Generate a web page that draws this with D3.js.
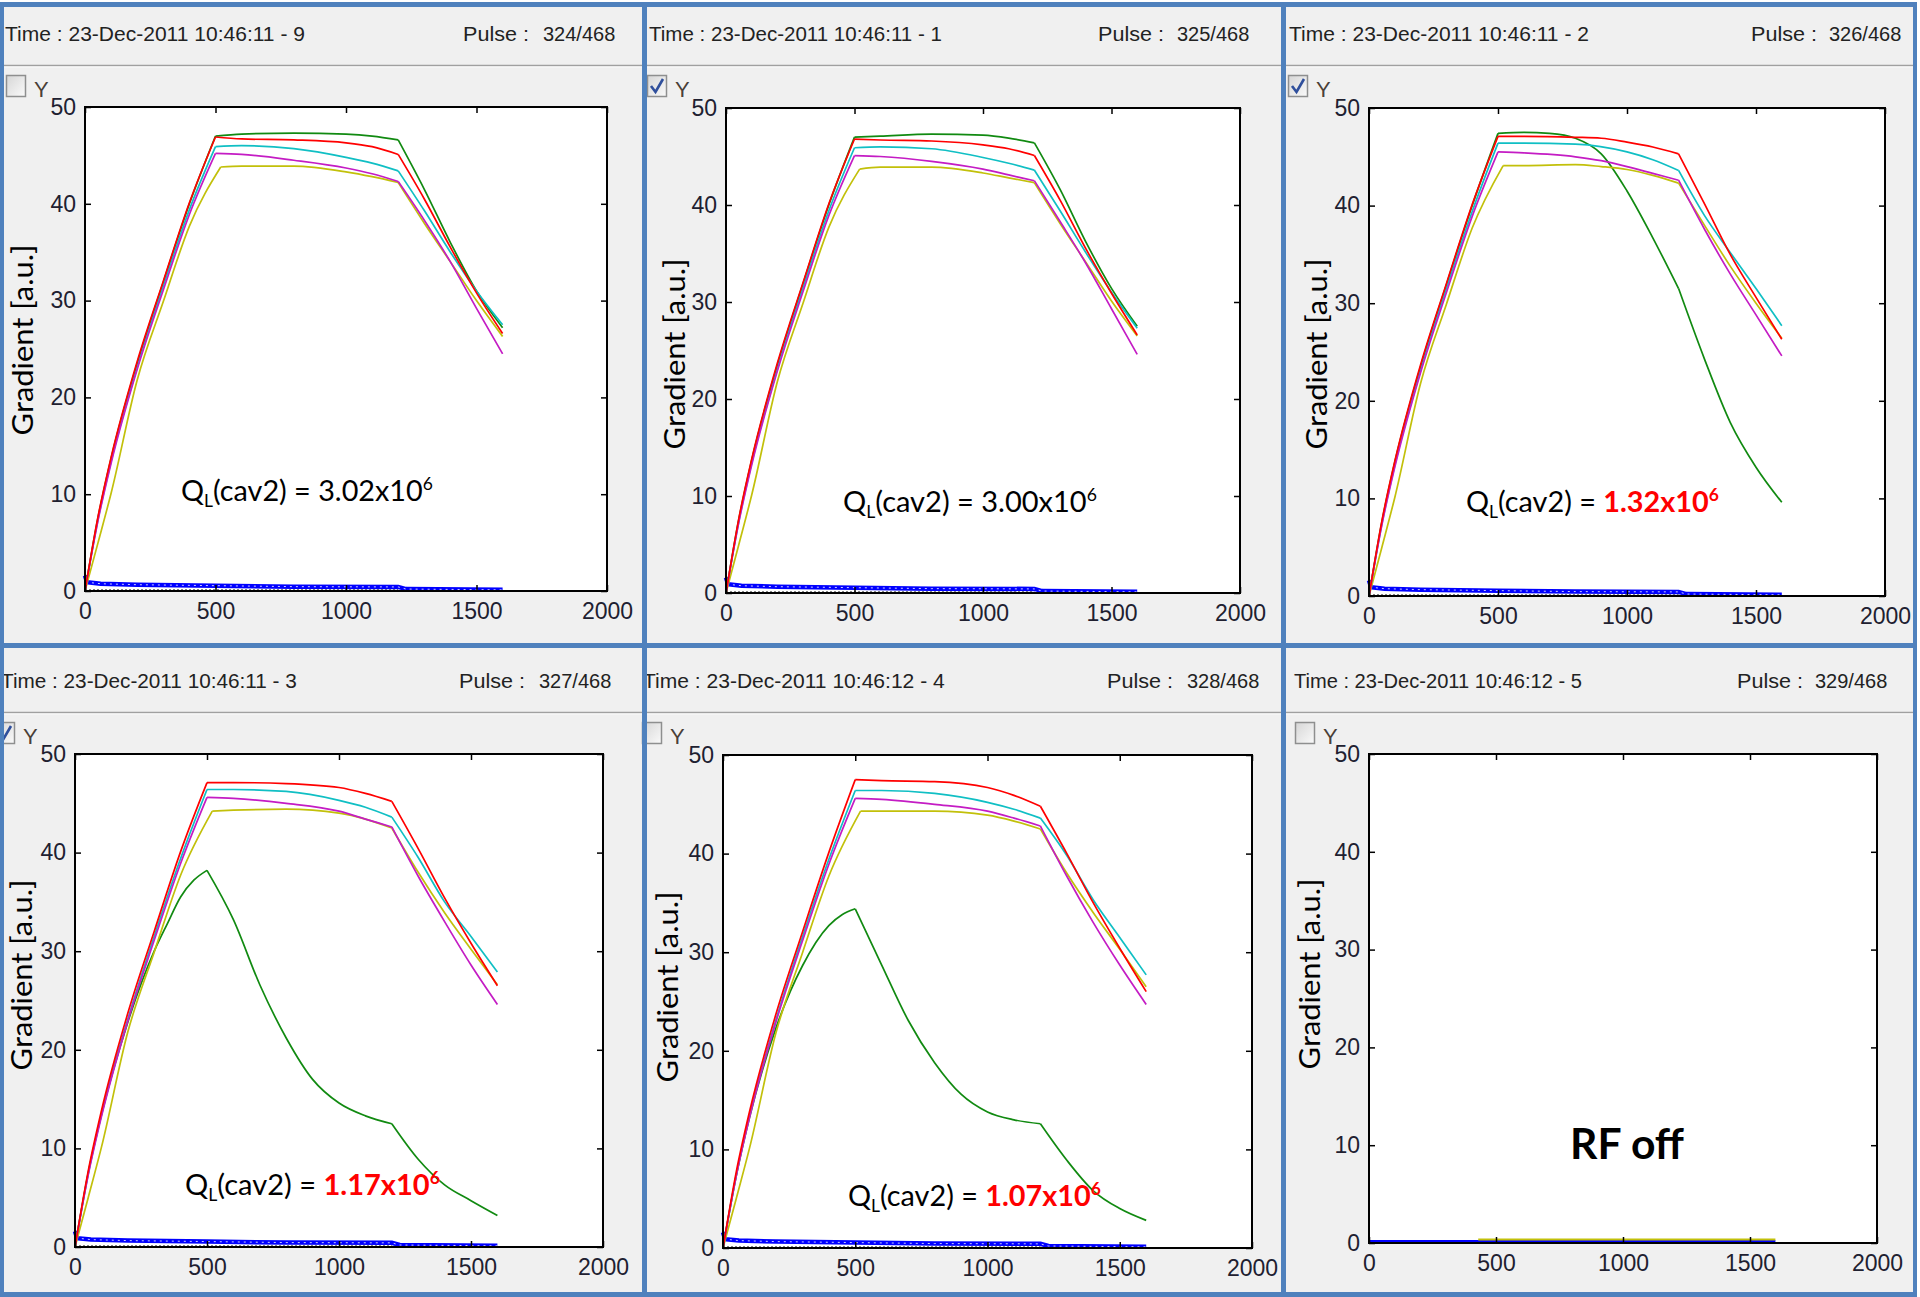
<!DOCTYPE html>
<html>
<head>
<meta charset="utf-8">
<script src="https://cdn.jsdelivr.net/npm/d3@7"></script>
<style>
html, body { margin: 0; padding: 0; background: #fff; }
svg { display: block; }
</style>
</head>
<body>
<svg id="chart" width="1920" height="1297"></svg>
<script>
// ---- data ----
const xTicks = [0, 500, 1000, 1500, 2000]
const yTicks = [0, 10, 20, 30, 40, 50]

const timeStamps = ["23-Dec-2011 10:46:11 - 9", "23-Dec-2011 10:46:11 - 1", "23-Dec-2011 10:46:11 - 2",
                    "23-Dec-2011 10:46:11 - 3", "23-Dec-2011 10:46:12 - 4", "23-Dec-2011 10:46:12 - 5"]
const pulseLabels = ["324/468", "325/468", "326/468", "327/468", "328/468", "329/468"]
const qlMantissa = ["3.02", "3.00", "1.32", "1.17", "1.07", null]
const qlHighlighted = [false, false, true, true, true, false]
const yChecked = [false, true, true, true, false, false]

// pulse 324
const p1Green = [[0,0],[50,7.6],[100,13.7],[200,23.5],[300,31.9],[400,40.0],[500,47.0],[600,47.2],[800,47.3],[1000,47.2],[1100,47.0],[1200,46.6],[1300,41.5],[1400,36.0],[1500,31.0],[1600,27.2]]
const p1Red = [[0,0],[50,7.7],[100,13.8],[200,23.7],[300,32.0],[400,40.1],[500,46.9],[600,46.7],[800,46.6],[1000,46.3],[1100,45.9],[1200,45.1],[1300,40.5],[1400,35.5],[1500,30.8],[1600,26.6]]
const p1Cyan = [[0,0],[50,7.4],[100,13.4],[200,23.1],[300,31.5],[400,39.4],[500,45.9],[600,46.0],[800,45.7],[1000,44.8],[1100,44.2],[1200,43.4],[1300,39.3],[1400,35.0],[1500,31.0],[1600,27.5]]
const p1Magenta = [[0,0],[50,7.3],[100,13.2],[200,22.9],[300,31.1],[400,38.9],[500,45.2],[600,45.1],[800,44.5],[1000,43.7],[1100,43.1],[1200,42.3],[1300,38.3],[1400,34.0],[1500,29.2],[1600,24.5]]
const p1Yellow = [[0,0],[50,5.0],[100,10.1],[200,21.8],[300,29.9],[400,37.7],[520,43.8],[600,43.9],[800,43.9],[1000,43.3],[1100,42.8],[1200,42.2],[1300,38.0],[1400,34.0],[1500,30.0],[1600,26.3]]

// pulse 325
const p2Green = [[0,0],[50,7.6],[100,13.7],[200,23.5],[300,31.9],[400,40.0],[500,47.0],[600,47.1],[800,47.3],[1000,47.2],[1100,46.9],[1200,46.4],[1300,41.6],[1400,36.2],[1500,31.4],[1600,27.5]]
const p2Red = [[0,0],[50,7.7],[100,13.8],[200,23.7],[300,32.0],[400,40.1],[500,46.8],[600,46.7],[800,46.6],[1000,46.2],[1100,45.8],[1200,45.1],[1300,40.5],[1400,35.5],[1500,30.9],[1600,26.6]]
const p2Cyan = [[0,0],[50,7.4],[100,13.4],[200,23.1],[300,31.5],[400,39.4],[500,45.9],[600,46.0],[800,45.8],[1000,44.9],[1100,44.3],[1200,43.6],[1300,39.4],[1400,35.1],[1500,31.0],[1600,27.3]]
const p2Magenta = [[0,0],[50,7.3],[100,13.2],[200,22.9],[300,31.1],[400,38.9],[500,45.1],[600,45.0],[800,44.5],[1000,43.7],[1100,43.1],[1200,42.5],[1300,38.3],[1400,34.0],[1500,29.3],[1600,24.6]]
const p2Yellow = [[0,0],[50,5.0],[100,10.1],[200,21.8],[300,29.9],[400,37.7],[520,43.7],[600,43.9],[800,43.9],[1000,43.3],[1100,42.8],[1200,42.3],[1300,38.1],[1400,34.1],[1500,30.1],[1600,26.5]]

// pulse 326
const p3Green = [[0,0],[50,7.6],[100,13.7],[200,23.5],[300,31.9],[400,40.0],[500,47.4],[600,47.5],[700,47.4],[800,46.9],[900,45.3],[1000,41.5],[1100,36.7],[1200,31.5],[1300,24.3],[1400,17.8],[1500,13.2],[1600,9.6]]
const p3Red = [[0,0],[50,7.7],[100,13.8],[200,23.7],[300,32.0],[400,40.1],[500,47.1],[600,47.1],[800,47.0],[900,46.9],[1000,46.5],[1100,46.0],[1200,45.3],[1300,40.2],[1400,35.0],[1500,30.6],[1600,26.3]]
const p3Cyan = [[0,0],[50,7.4],[100,13.4],[200,23.1],[300,31.5],[400,39.4],[500,46.4],[600,46.4],[800,46.3],[1000,45.5],[1100,44.7],[1200,43.6],[1300,39.0],[1400,35.2],[1500,31.5],[1600,27.7]]
const p3Magenta = [[0,0],[50,7.3],[100,13.2],[200,22.9],[300,31.1],[400,38.9],[500,45.5],[600,45.4],[800,45.0],[900,44.6],[1000,44.0],[1100,43.3],[1200,42.6],[1300,37.6],[1400,33.0],[1500,28.8],[1600,24.6]]
const p3Yellow = [[0,0],[50,5.0],[100,10.1],[200,21.8],[300,29.9],[400,37.7],[520,44.1],[600,44.1],[800,44.2],[900,44.0],[1000,43.7],[1100,43.1],[1200,42.3],[1300,38.0],[1400,33.8],[1500,30.0],[1600,26.4]]

// pulse 327
const p4Green = [[0,0],[50,7.5],[100,13.4],[200,22.8],[300,30.0],[350,32.8],[400,35.5],[450,37.2],[500,38.2],[600,33.2],[700,26.6],[800,21.2],[900,17.0],[1000,14.6],[1100,13.3],[1200,12.5],[1300,8.9],[1400,6.3],[1500,4.7],[1600,3.2]]
const p4Red = [[0,0],[50,7.7],[100,13.8],[200,23.7],[300,32.0],[400,40.1],[500,47.1],[600,47.1],[800,47.0],[1000,46.6],[1100,46.0],[1200,45.2],[1300,40.4],[1400,35.4],[1500,30.8],[1600,26.5]]
const p4Cyan = [[0,0],[50,7.4],[100,13.4],[200,23.1],[300,31.5],[400,39.4],[500,46.4],[600,46.4],[800,46.2],[1000,45.3],[1100,44.6],[1200,43.6],[1300,39.5],[1400,35.0],[1500,31.5],[1600,27.9]]
const p4Magenta = [[0,0],[50,7.3],[100,13.2],[200,22.9],[300,31.1],[400,38.9],[500,45.6],[600,45.5],[800,45.0],[1000,44.2],[1100,43.4],[1200,42.6],[1300,37.6],[1400,33.0],[1500,28.6],[1600,24.6]]
const p4Yellow = [[0,0],[50,5.0],[100,10.1],[200,21.8],[300,29.9],[400,37.7],[520,44.2],[600,44.3],[800,44.4],[1000,44.0],[1100,43.4],[1200,42.5],[1300,38.0],[1400,33.9],[1500,30.2],[1600,26.6]]

// pulse 328
const p5Green = [[0,0],[50,7.3],[100,13.2],[200,22.3],[300,28.6],[400,32.7],[450,33.8],[500,34.4],[600,28.7],[700,23.1],[800,18.8],[900,15.6],[1000,13.8],[1100,13.0],[1200,12.6],[1300,8.9],[1400,5.8],[1500,4.0],[1600,2.8]]
const p5Red = [[0,0],[50,7.7],[100,13.8],[200,23.7],[300,32.0],[400,40.1],[500,47.5],[600,47.4],[800,47.3],[1000,46.7],[1100,45.9],[1200,44.8],[1300,40.0],[1400,35.0],[1500,30.4],[1600,26.0]]
const p5Cyan = [[0,0],[50,7.4],[100,13.4],[200,23.1],[300,31.5],[400,39.4],[500,46.4],[600,46.4],[800,46.1],[1000,45.2],[1100,44.5],[1200,43.6],[1300,39.8],[1400,35.3],[1500,31.5],[1600,27.7]]
const p5Magenta = [[0,0],[50,7.3],[100,13.2],[200,22.9],[300,31.1],[400,38.9],[500,45.6],[600,45.5],[800,45.0],[1000,44.3],[1100,43.6],[1200,42.8],[1300,37.7],[1400,33.0],[1500,28.7],[1600,24.7]]
const p5Yellow = [[0,0],[50,5.0],[100,10.1],[200,21.8],[300,29.9],[400,37.7],[520,44.3],[600,44.3],[800,44.3],[1000,43.9],[1100,43.3],[1200,42.5],[1300,38.0],[1400,34.0],[1500,30.3],[1600,26.5]]

// pulse 329: RF off, only the baseline traces
const p6Blue = [[0,0.12],[1600,0.12]]
const p6Yellow = [[430,0.35],[1600,0.35]]

// probe / reflected baseline near zero (pulses 324-328)
const baseBlue = [[0,1.6],[8,0.9],[60,0.75],[200,0.65],[500,0.55],[800,0.45],[1200,0.42],[1230,0.2],[1600,0.12]]
const baseDots = [[0,0.08],[1200,0.08]]

const traceColors = {green: "#118a11", red: "#ff0000", cyan: "#10bfc4", magenta: "#c41cc4", yellow: "#c2c00a", blue: "#0000ff"}

const panelTraces = [
  {green: p1Green, yellow: p1Yellow, cyan: p1Cyan, magenta: p1Magenta, red: p1Red},
  {green: p2Green, yellow: p2Yellow, cyan: p2Cyan, magenta: p2Magenta, red: p2Red},
  {green: p3Green, yellow: p3Yellow, cyan: p3Cyan, magenta: p3Magenta, red: p3Red},
  {green: p4Green, yellow: p4Yellow, cyan: p4Cyan, magenta: p4Magenta, red: p4Red},
  {green: p5Green, yellow: p5Yellow, cyan: p5Cyan, magenta: p5Magenta, red: p5Red},
  {}
]

// ---- layout (pixels) ----
const layout = [
  {plot: [85, 107, 607, 591],    col: [4, 642],     shift: 0,   time: [5, 300],    pulse: [463, 543],   box: 6,    ylab: [33, 340],   note: [181, 433, 501]},
  {plot: [726, 108, 1240, 593],  col: [647, 1281],  shift: 0,   time: [649, 293],  pulse: [1098, 1177], box: 647,  ylab: [685, 354],  note: [843, 1097, 512]},
  {plot: [1369, 108, 1885, 596], col: [1286, 1913], shift: 0,   time: [1289, 300], pulse: [1751, 1829], box: 1288, ylab: [1327, 354], note: [1466, 1719, 512]},
  {plot: [75, 754, 603, 1247],   col: [4, 642],     shift: 647, time: [1, 296],    pulse: [459, 539],   box: -5,   ylab: [32, 975],   note: [185, 440, 1195]},
  {plot: [723, 755, 1252, 1248], col: [647, 1281],  shift: 647, time: [643, 302],  pulse: [1107, 1187], box: 642,  ylab: [678, 987],  note: [848, 1101, 1206]},
  {plot: [1369, 754, 1877, 1243],col: [1286, 1913], shift: 647, time: [1294, 288], pulse: [1737, 1815], box: 1295, ylab: [1320, 974], note: [1570, 1684, 1159]}
]

const frameBlue = "#4f81bd"
const uiFont = "'Liberation Sans', Arial, sans-serif"
const noteFont = "Lato, 'Open Sans', sans-serif"

const svg = d3.select("#chart")

svg.append("rect").attr("width", 1920).attr("height", 1297).attr("fill", "#fff")
svg.append("rect").attr("x", 0).attr("y", 2).attr("width", 1917).attr("height", 1295).attr("fill", "#f0f0f0")

const defs = svg.append("defs")
const grad = defs.append("linearGradient").attr("id", "boxfill").attr("x1", 0).attr("y1", 0).attr("x2", 1).attr("y2", 1)
grad.append("stop").attr("offset", "0%").attr("stop-color", "#d6d6d6")
grad.append("stop").attr("offset", "100%").attr("stop-color", "#fafafa")

// squeeze a text to a given advance width
function fitText(parent, x, y, width, build, rotate) {
  let t = parent.append("text").attr("x", 0).attr("y", 0)
  build(t)
  let w = t.node().getComputedTextLength()
  let sx = width / w
  t.attr("transform", rotate
    ? `translate(${x},${y}) rotate(-90) scale(${sx},1)`
    : `translate(${x},${y}) scale(${sx},1)`)
  return t
}

// cut a trace at the fill end (~500) and the pulse end (1200) so corners stay sharp
function pieces(tr) {
  let a = tr.findIndex(d => d[0] >= 500)
  let b = tr.findIndex(d => d[0] >= 1200)
  return [tr.slice(0, a + 1), tr.slice(a, b + 1), tr.slice(b)]
}

layout.forEach((L, i) => {
  let g = svg.append("g")
  let [pl, pt, pr, pb] = L.plot
  let s = L.shift

  // header
  fitText(g, L.time[0], 41 + s, L.time[1], t => t
    .attr("font-family", uiFont).attr("font-size", 20).attr("fill", "#222")
    .text("Time : " + timeStamps[i]))
  fitText(g, L.pulse[0], 41 + s, 66, t => t
    .attr("font-family", uiFont).attr("font-size", 20).attr("fill", "#222")
    .text("Pulse :"))
  g.append("text").attr("x", L.pulse[1]).attr("y", 41 + s)
    .attr("font-family", uiFont).attr("font-size", 20).attr("fill", "#222")
    .text(pulseLabels[i])

  g.append("line").attr("x1", L.col[0]).attr("x2", L.col[1]).attr("y1", 65.5 + s).attr("y2", 65.5 + s)
    .attr("stroke", "#a0a0a0").attr("stroke-width", 1.5)
  g.append("line").attr("x1", L.col[0]).attr("x2", L.col[1]).attr("y1", 67 + s).attr("y2", 67 + s)
    .attr("stroke", "#fafafa").attr("stroke-width", 1)

  // "Y" checkbox
  g.append("rect").attr("x", L.box + 0.5).attr("y", 75.5 + s).attr("width", 19).attr("height", 21)
    .attr("fill", "url(#boxfill)").attr("stroke", "#8e8f8f").attr("stroke-width", 1.5)
  if (yChecked[i]) {
    g.append("path")
      .attr("d", `M${L.box + 4},${86 + s} L${L.box + 8.5},${92 + s} L${L.box + 16},${79 + s}`)
      .attr("fill", "none").attr("stroke", "#2f4f9c").attr("stroke-width", 2.6)
  }
  g.append("text").attr("x", L.box + 28).attr("y", 97 + s)
    .attr("font-family", uiFont).attr("font-size", 22).attr("fill", "#4a4038").text("Y")

  // axes
  let x = d3.scaleLinear().domain([0, 2000]).range([pl, pr])
  let y = d3.scaleLinear().domain([0, 50]).range([pb, pt])

  g.append("rect").attr("x", pl).attr("y", pt).attr("width", pr - pl).attr("height", pb - pt).attr("fill", "#fff")

  let line = d3.line().x(d => x(d[0])).y(d => y(d[1]))
  let smooth = d3.line().x(d => x(d[0])).y(d => y(d[1])).curve(d3.curveMonotoneX)

  let plot = g.append("g")
  if (i < 5) {
    plot.append("path").datum(baseBlue).attr("d", line)
      .attr("fill", "none").attr("stroke", traceColors.blue).attr("stroke-width", 4.5)
    plot.append("path").datum(baseBlue).attr("d", line)
      .attr("fill", "none").attr("stroke", "#fff").attr("stroke-width", 1)
      .attr("stroke-dasharray", "2,4").attr("opacity", 0.8)
    plot.append("path").datum(baseDots).attr("d", line)
      .attr("fill", "none").attr("stroke", "#111").attr("stroke-width", 1.6)
      .attr("stroke-dasharray", "2,2")
    let tr = panelTraces[i]
    Object.keys(tr).forEach(k => {
      pieces(tr[k]).forEach(part => {
        plot.append("path").datum(part).attr("d", smooth)
          .attr("fill", "none").attr("stroke", traceColors[k]).attr("stroke-width", 1.7)
          .attr("stroke-linejoin", "round")
      })
    })
  } else {
    plot.append("path").datum(p6Blue).attr("d", line)
      .attr("fill", "none").attr("stroke", traceColors.blue).attr("stroke-width", 3.5)
    plot.append("path").datum(p6Yellow).attr("d", line)
      .attr("fill", "none").attr("stroke", traceColors.yellow).attr("stroke-width", 2)
  }

  let styleAxis = a => {
    a.select(".domain").remove()
    a.selectAll(".tick line").attr("stroke", "#000").attr("stroke-width", 1.5)
    a.selectAll("text").attr("font-family", uiFont).attr("font-size", 23).attr("fill", "#202030")
  }
  let fmt = d3.format("d")
  g.append("g").attr("transform", `translate(0,${pb})`)
    .call(d3.axisBottom(x).tickValues(xTicks).tickFormat(fmt).tickSizeInner(-6).tickSizeOuter(0).tickPadding(12))
    .call(styleAxis)
  g.append("g").attr("transform", `translate(${pl},0)`)
    .call(d3.axisLeft(y).tickValues(yTicks).tickFormat(fmt).tickSizeInner(-6).tickSizeOuter(0).tickPadding(9))
    .call(styleAxis)
  g.append("g").attr("transform", `translate(0,${pt})`)
    .call(d3.axisTop(x).tickValues(xTicks).tickSizeInner(-6).tickSizeOuter(0).tickFormat(""))
    .call(styleAxis)
  g.append("g").attr("transform", `translate(${pr},0)`)
    .call(d3.axisRight(y).tickValues(yTicks).tickSizeInner(-6).tickSizeOuter(0).tickFormat(""))
    .call(styleAxis)
  g.append("rect").attr("x", pl).attr("y", pt).attr("width", pr - pl).attr("height", pb - pt)
    .attr("fill", "none").attr("stroke", "#000").attr("stroke-width", 2)

  // y label
  fitText(g, L.ylab[0], L.ylab[1], 191, t => t
    .attr("font-family", noteFont).attr("font-size", 28).attr("fill", "#000")
    .attr("text-anchor", "middle").text("Gradient  [a.u.]"), true)

  // loaded-Q annotation
  let [nx0, nx1, nb] = L.note
  if (qlMantissa[i]) {
    fitText(g, nx0, nb, nx1 - nx0, t => {
      t.attr("font-family", noteFont).attr("font-size", 28).attr("fill", "#000")
      t.append("tspan").text("Q")
      t.append("tspan").attr("font-size", 17).attr("dy", 6).text("L")
      t.append("tspan").attr("dy", -6).text("(cav2) = ")
      let v = t.append("tspan").text(qlMantissa[i] + "x10")
      let e = t.append("tspan").attr("font-size", 17).attr("dy", -11).text("6")
      if (qlHighlighted[i]) {
        v.attr("fill", "#ff0000").attr("font-weight", 700)
        e.attr("fill", "#ff0000").attr("font-weight", 700)
      }
    })
  } else {
    fitText(g, nx0, nb, nx1 - nx0, t => t
      .attr("font-family", noteFont).attr("font-size", 42).attr("font-weight", 700).attr("fill", "#000")
      .text("RF off"))
  }
})

// window frame drawn on top
const bars = [
  [0, 2, 1917, 5], [0, 1292, 1917, 5], [0, 2, 4, 1295], [1913, 2, 4, 1295],
  [642, 2, 5, 1295], [1281, 2, 5, 1295], [0, 643, 1917, 5]
]
svg.append("g").selectAll("rect").data(bars).join("rect")
  .attr("x", d => d[0]).attr("y", d => d[1]).attr("width", d => d[2]).attr("height", d => d[3])
  .attr("fill", frameBlue)
</script>
</body>
</html>
